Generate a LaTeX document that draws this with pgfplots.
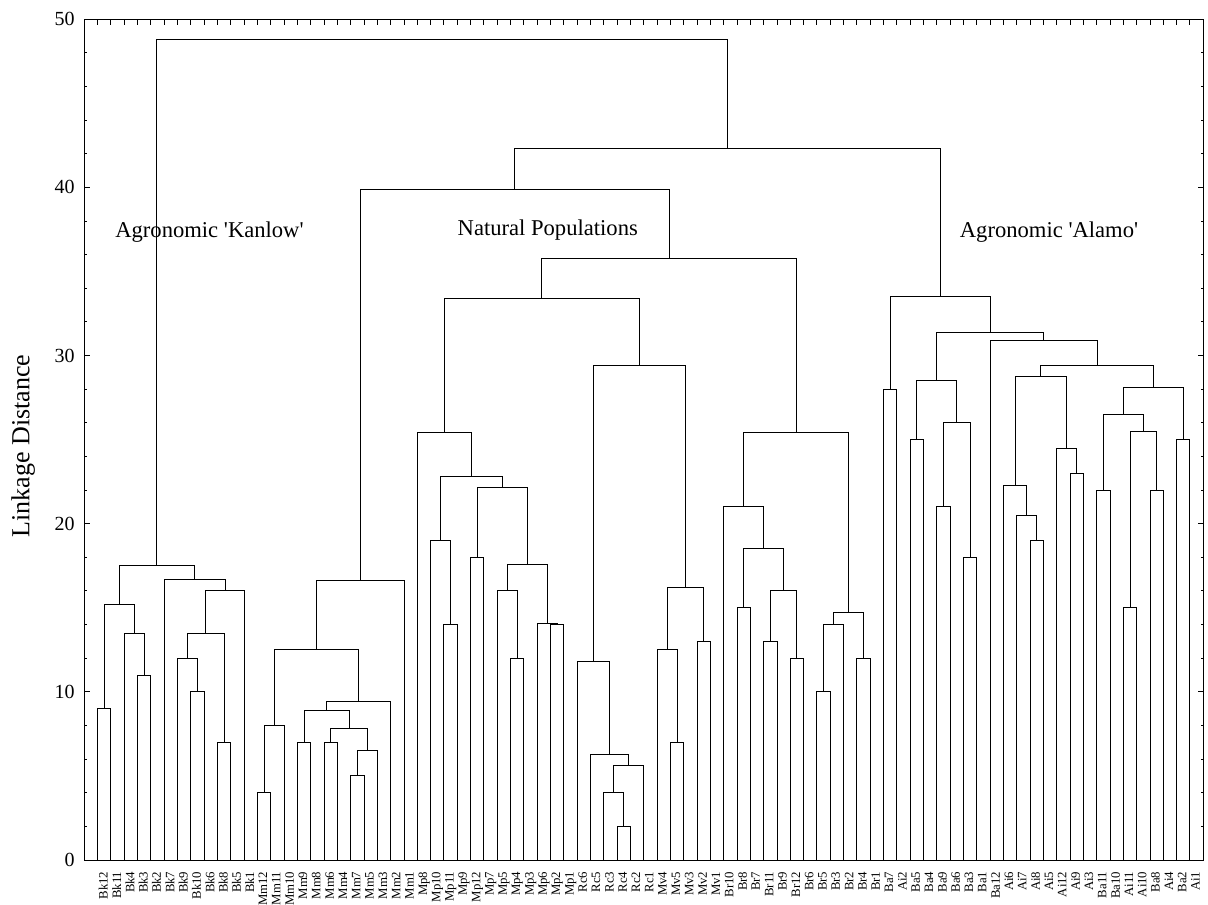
\documentclass[border=0pt]{standalone}
\usepackage{fontspec}
\setmainfont{Liberation Serif}
\usepackage{pgfplots}
\pgfplotsset{compat=1.18}
\begin{document}
\begin{tikzpicture}
\begin{axis}[
  at={(0,0)}, anchor=south west,
  scale only axis,
  width=559.5pt, height=420.35pt,
  xmin=-1, xmax=83, ymin=0, ymax=50,
  axis line style={line width=0.5pt},
  tick style={black, line width=0.5pt},
  major tick length=2.8pt, minor tick length=1.4pt,
  tick align=inside,
  xtick={0,...,82},
  xticklabels={Bk12,Bk11,Bk4,Bk3,Bk2,Bk7,Bk9,Bk10,Bk6,Bk8,Bk5,Bk1,Mm12,Mm11,Mm10,Mm9,Mm8,Mm6,Mm4,Mm7,Mm5,Mm3,Mm2,Mm1,Mp8,Mp10,Mp11,Mp9,Mp12,Mp7,Mp5,Mp4,Mp3,Mp6,Mp2,Mp1,Rc6,Rc5,Rc3,Rc4,Rc2,Rc1,Mv4,Mv5,Mv3,Mv2,Mv1,Br10,Br8,Br7,Br11,Br9,Br12,Br6,Br5,Br3,Br2,Br4,Br1,Ba7,Ai2,Ba5,Ba4,Ba9,Ba6,Ba3,Ba1,Ba12,Ai6,Ai7,Ai8,Ai5,Ai12,Ai9,Ai3,Ba11,Ba10,Ai11,Ai10,Ba8,Ai4,Ba2,Ai1},
  xticklabel style={rotate=90, anchor=north east, inner xsep=0pt, inner ysep=0.4pt, font=\fontsize{6.4}{7}\selectfont},
  xticklabel shift=5.6pt,
  ytick={0,10,20,30,40,50},
  minor y tick num=4,
  yticklabel style={anchor=east, inner sep=0pt, font=\fontsize{10}{12}\selectfont},
  yticklabel shift=4.6pt,
  /pgf/number format/assume math mode=true,
  ylabel={Linkage Distance},
  every axis y label/.style={at={(axis description cs:-0.0547,0.4925)}, rotate=90, anchor=center, font=\fontsize{13}{15}\selectfont},
  unbounded coords=jump,
  clip=false,
]
% Agronomic Kanlow
\addplot[black, line width=0.5pt, mark=none] coordinates {
(0,0) (0,9) (1,9) (1,0) (nan,nan)
(3,0) (3,11) (4,11) (4,0) (nan,nan)
(2,0) (2,13.5) (3.5,13.5) (3.5,11) (nan,nan)
(0.5,9) (0.5,15.2) (2.75,15.2) (2.75,13.5) (nan,nan)
(7,0) (7,10) (8,10) (8,0) (nan,nan)
(6,0) (6,12) (7.5,12) (7.5,10) (nan,nan)
(9,0) (9,7) (10,7) (10,0) (nan,nan)
(6.75,12) (6.75,13.5) (9.5,13.5) (9.5,7) (nan,nan)
(8.125,13.5) (8.125,16) (11,16) (11,0) (nan,nan)
(5,0) (5,16.7) (9.5625,16.7) (9.5625,16) (nan,nan)
(1.625,15.2) (1.625,17.5) (7.28125,17.5) (7.28125,16.7)
};
% Mm
\addplot[black, line width=0.5pt, mark=none] coordinates {
(12,0) (12,4) (13,4) (13,0) (nan,nan)
(12.5,4) (12.5,8) (14,8) (14,0) (nan,nan)
(15,0) (15,7) (16,7) (16,0) (nan,nan)
(17,0) (17,7) (18,7) (18,0) (nan,nan)
(19,0) (19,5) (20,5) (20,0) (nan,nan)
(19.5,5) (19.5,6.5) (21,6.5) (21,0) (nan,nan)
(17.5,7) (17.5,7.8) (20.25,7.8) (20.25,6.5) (nan,nan)
(15.5,7) (15.5,8.9) (18.875,8.9) (18.875,7.8) (nan,nan)
(17.1875,8.9) (17.1875,9.4) (22,9.4) (22,0) (nan,nan)
(13.25,8) (13.25,12.5) (19.59375,12.5) (19.59375,9.4) (nan,nan)
(16.421875,12.5) (16.421875,16.65) (23,16.65) (23,0)
};
% Mp
\addplot[black, line width=0.5pt, mark=none] coordinates {
(26,0) (26,14) (27,14) (27,0) (nan,nan)
(25,0) (25,19) (26.5,19) (26.5,14) (nan,nan)
(28,0) (28,18) (29,18) (29,0) (nan,nan)
(31,0) (31,12) (32,12) (32,0) (nan,nan)
(30,0) (30,16) (31.5,16) (31.5,12) (nan,nan)
(34,0) (34,14) (35,14) (35,0) (nan,nan)
(33,0) (33,14.05) (34.5,14.05) (34.5,14) (nan,nan)
(30.75,16) (30.75,17.55) (33.75,17.55) (33.75,14.05) (nan,nan)
(28.5,18) (28.5,22.15) (32.25,22.15) (32.25,17.55) (nan,nan)
(25.75,19) (25.75,22.8) (30.375,22.8) (30.375,22.15) (nan,nan)
(24,0) (24,25.45) (28.0625,25.45) (28.0625,22.8)
};
% Rc and Mv
\addplot[black, line width=0.5pt, mark=none] coordinates {
(39,0) (39,2) (40,2) (40,0) (nan,nan)
(38,0) (38,4) (39.5,4) (39.5,2) (nan,nan)
(38.75,4) (38.75,5.65) (41,5.65) (41,0) (nan,nan)
(37,0) (37,6.25) (39.875,6.25) (39.875,5.65) (nan,nan)
(36,0) (36,11.8) (38.4375,11.8) (38.4375,6.25) (nan,nan)
(43,0) (43,7) (44,7) (44,0) (nan,nan)
(42,0) (42,12.5) (43.5,12.5) (43.5,7) (nan,nan)
(45,0) (45,13) (46,13) (46,0) (nan,nan)
(42.75,12.5) (42.75,16.2) (45.5,16.2) (45.5,13) (nan,nan)
(37.21875,11.8) (37.21875,29.4) (44.125,29.4) (44.125,16.2)
};
% Br
\addplot[black, line width=0.5pt, mark=none] coordinates {
(48,0) (48,15) (49,15) (49,0) (nan,nan)
(50,0) (50,13) (51,13) (51,0) (nan,nan)
(52,0) (52,12) (53,12) (53,0) (nan,nan)
(50.5,13) (50.5,16) (52.5,16) (52.5,12) (nan,nan)
(48.5,15) (48.5,18.5) (51.5,18.5) (51.5,16) (nan,nan)
(47,0) (47,21) (50,21) (50,18.5) (nan,nan)
(54,0) (54,10) (55,10) (55,0) (nan,nan)
(54.5,10) (54.5,14) (56,14) (56,0) (nan,nan)
(57,0) (57,12) (58,12) (58,0) (nan,nan)
(55.25,14) (55.25,14.7) (57.5,14.7) (57.5,12) (nan,nan)
(48.5,21) (48.5,25.4) (56.375,25.4) (56.375,14.7)
};
% Natural populations upper joins
\addplot[black, line width=0.5pt, mark=none] coordinates {
(26.03125,25.45) (26.03125,33.4) (40.671875,33.4) (40.671875,29.4) (nan,nan)
(33.3515625,33.4) (33.3515625,35.8) (52.4375,35.8) (52.4375,25.4) (nan,nan)
(19.7109375,16.65) (19.7109375,39.9) (42.89453125,39.9) (42.89453125,35.8)
};
% Agronomic Alamo
\addplot[black, line width=0.5pt, mark=none] coordinates {
(59,0) (59,28) (60,28) (60,0) (nan,nan)
(61,0) (61,25) (62,25) (62,0) (nan,nan)
(63,0) (63,21) (64,21) (64,0) (nan,nan)
(65,0) (65,18) (66,18) (66,0) (nan,nan)
(63.5,21) (63.5,26) (65.5,26) (65.5,18) (nan,nan)
(61.5,25) (61.5,28.5) (64.5,28.5) (64.5,26) (nan,nan)
(70,0) (70,19) (71,19) (71,0) (nan,nan)
(69,0) (69,20.5) (70.5,20.5) (70.5,19) (nan,nan)
(68,0) (68,22.3) (69.75,22.3) (69.75,20.5) (nan,nan)
(73,0) (73,23) (74,23) (74,0) (nan,nan)
(72,0) (72,24.5) (73.5,24.5) (73.5,23) (nan,nan)
(68.875,22.3) (68.875,28.75) (72.75,28.75) (72.75,24.5) (nan,nan)
(75,0) (75,22) (76,22) (76,0) (nan,nan)
(77,0) (77,15) (78,15) (78,0) (nan,nan)
(79,0) (79,22) (80,22) (80,0) (nan,nan)
(77.5,15) (77.5,25.5) (79.5,25.5) (79.5,22) (nan,nan)
(75.5,22) (75.5,26.5) (78.5,26.5) (78.5,25.5) (nan,nan)
(81,0) (81,25) (82,25) (82,0) (nan,nan)
(77,26.5) (77,28.1) (81.5,28.1) (81.5,25) (nan,nan)
(70.8125,28.75) (70.8125,29.4) (79.25,29.4) (79.25,28.1) (nan,nan)
(67,0) (67,30.9) (75.03125,30.9) (75.03125,29.4) (nan,nan)
(63,28.5) (63,31.4) (71.015625,31.4) (71.015625,30.9) (nan,nan)
(59.5,28) (59.5,33.5) (67.0078125,33.5) (67.0078125,31.4)
};
% Top joins
\addplot[black, line width=0.5pt, mark=none] coordinates {
(31.302734375,39.9) (31.302734375,42.3) (63.25390625,42.3) (63.25390625,33.5) (nan,nan)
(4.453125,17.5) (4.453125,48.8) (47.2783203125,48.8) (47.2783203125,42.3)
};
\node[anchor=west, inner sep=0pt, font=\fontsize{11.3}{13}\selectfont] at (axis cs:1.3,37.35) {Agronomic \textquotesingle Kanlow\textquotesingle};
\node[anchor=west, inner sep=0pt, font=\fontsize{11.3}{13}\selectfont] at (axis cs:27.0,37.45) {Natural Populations};
\node[anchor=west, inner sep=0pt, font=\fontsize{11.3}{13}\selectfont] at (axis cs:64.7,37.35) {Agronomic \textquotesingle Alamo\textquotesingle};
\end{axis}
\pgfresetboundingbox
\path[use as bounding box] (-42.15pt,-22pt) rectangle (561.85pt,430pt);
\end{tikzpicture}
\end{document}
